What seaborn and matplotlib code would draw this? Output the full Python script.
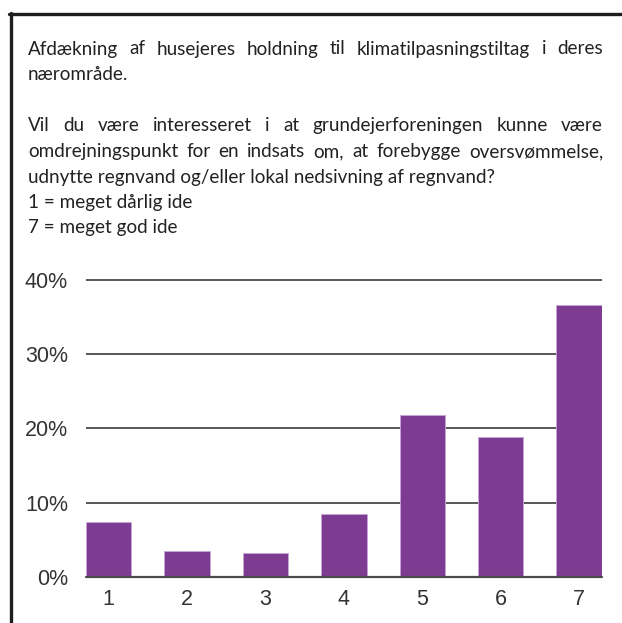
import matplotlib
matplotlib.use("Agg")
import matplotlib.pyplot as plt
import seaborn as sns
import pandas as pd
from matplotlib.lines import Line2D

# ---- data ----
categories = ["1", "2", "3", "4", "5", "6", "7"]
values = [7.4, 3.4, 3.2, 8.5, 21.8, 18.9, 36.6]
yticks = [0, 10, 20, 30, 40]
ytick_labels = ["0%", "10%", "20%", "30%", "40%"]

para1 = ["Afdækning af husejeres holdning til klimatilpasningstiltag i deres",
         "næromr\u00e5de."]
para2 = ["Vil du være interesseret i at grundejerforeningen kunne være",
         "omdrejningspunkt for en indsats om, at forebygge oversvømmelse,",
         "udnytte regnvand og/eller lokal nedsivning af regnvand?",
         "1 = meget d\u00e5rlig ide",
         "7 = meget god ide"]
justified = [[True, False], [True, True, False, False, False]]

BAR = "#7d3c92"
GRID = "#4a4a4a"
TXT = "#222222"

sns.set_theme(style="white")
plt.rcParams["font.family"] = ["Liberation Sans", "DejaVu Sans"]

W, H = 622, 623
fig = plt.figure(figsize=(W / 100, H / 100), dpi=100)
fig.patch.set_facecolor("white")

# axes geometry (pixels)
x0, x1 = 86, 601.7
y_zero, y_40 = 576.7, 280.0
px_per = (y_zero - y_40) / 40.0
ytop_val = 41.0
ax_top_px = y_zero - ytop_val * px_per
ax = fig.add_axes([x0 / W, (H - y_zero) / H, (x1 - x0) / W, (y_zero - ax_top_px) / H])

df = pd.DataFrame({"cat": categories, "val": values})
bw = 0.578
sns.barplot(data=df, x="cat", y="val", color=BAR, width=bw, ax=ax,
            saturation=1, edgecolor="#c7a6d6", linewidth=0.6, zorder=3)
ax.set_xlim(-bw / 2, len(categories) - 1 + bw / 2)
ax.set_ylim(0, ytop_val)
ax.set_yticks(yticks)
ax.set_yticklabels(ytick_labels)
for t in yticks[1:]:
    ax.axhline(t, color=GRID, lw=1.3, zorder=1)
ax.axhline(0, color=GRID, lw=1.6, zorder=4, clip_on=False)
for s in ax.spines.values():
    s.set_visible(False)
ax.set_xlabel("")
ax.set_ylabel("")
ax.tick_params(axis="both", length=0, labelsize=15.5, colors="#333333")
ax.tick_params(axis="y", pad=13)
ax.tick_params(axis="x", pad=9)
ax.set_facecolor("white")

# border lines (top and left)
fig.add_artist(Line2D([9 / W, 1.0], [1 - 13.5 / H, 1 - 13.5 / H], color="#1e1e1e", lw=2.4,
                      transform=fig.transFigure))
fig.add_artist(Line2D([10.5 / W, 10.5 / W], [1 - 12.5 / H, 0.0], color="#1e1e1e", lw=2.4,
                      transform=fig.transFigure))

# justified text
renderer = fig.canvas.get_renderer()
FONT = dict(family=["Lato", "DejaVu Sans"], size=13.6, color=TXT)
left_px, right_px = 28, 603


def width_px(s):
    t = fig.text(0, 0, s, **FONT)
    w = t.get_window_extent(renderer).width
    t.remove()
    return w


space_w = width_px("a b") - width_px("ab")


def draw_line(line, base_y, just):
    ypos = 1 - base_y / H
    if not just:
        fig.text(left_px / W, ypos, line, ha="left", va="baseline", **FONT)
        return
    words = line.split(" ")
    ws = [width_px(w) for w in words]
    gap = (right_px - left_px - sum(ws)) / (len(words) - 1)
    x = left_px
    for w, wd in zip(words, ws):
        fig.text(x / W, ypos, w, ha="left", va="baseline", **FONT)
        x += wd + gap


base1 = [54.5, 79.5]
for line, b, j in zip(para1, base1, justified[0]):
    draw_line(line, b, j)
base2 = [131, 157, 183, 208, 233]
for line, b, j in zip(para2, base2, justified[1]):
    draw_line(line, b, j)

fig.savefig("out.png", dpi=100, facecolor="white")
